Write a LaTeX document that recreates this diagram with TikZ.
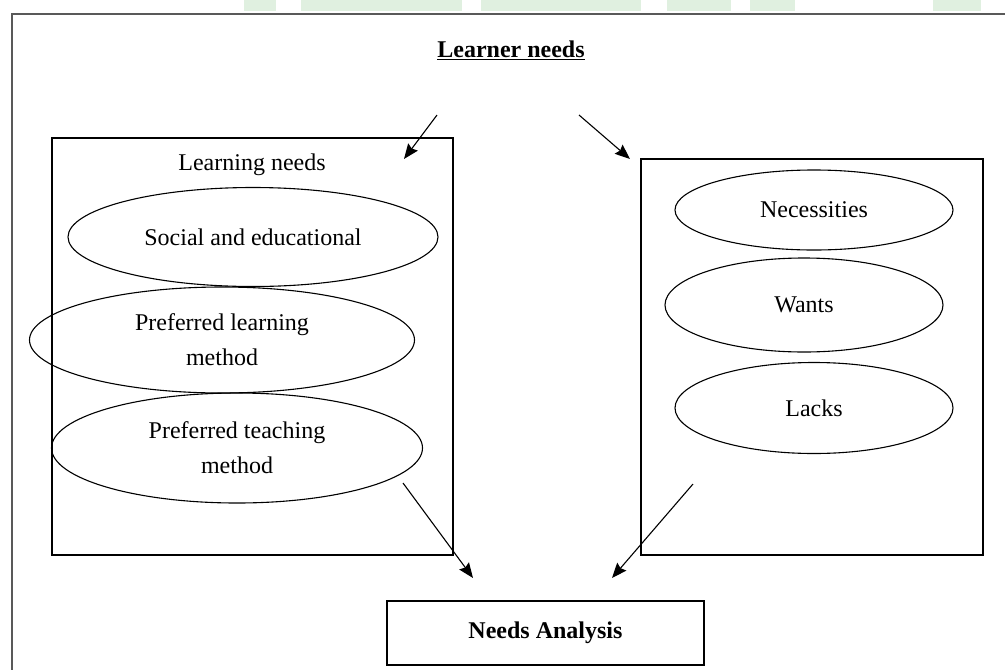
\documentclass[tikz,border=0pt]{standalone}
\usepackage{fontspec}
\setmainfont{Liberation Serif}
\usetikzlibrary{arrows.meta, shapes.geometric}

\begin{document}
\begin{tikzpicture}[x=1pt, y=-1pt, >={Stealth[length=15pt,width=12pt,inset=2pt]},
    line width=1.1pt, font=\fontsize{24}{35}\selectfont,
    oval/.style={draw, ellipse, inner sep=0pt, align=center},
    frame/.style={draw, rectangle, inner sep=0pt}]
    \useasboundingbox (0,0) rectangle (1005,670);
    % faded banner along the top edge
    \foreach \a/\b in {244/276, 301/462, 481/641, 667/731, 750/795, 933/981}
        \fill[green!50!black!12] (\a,0) rectangle (\b,11);
    \draw[line width=2pt, black!65] (12,670) -- (12,14) -- (1005,14);
    \node (ln) at (511,50) {\underline{\textbf{Learner needs}}};
    % left box
    \node[frame, minimum width=401pt, minimum height=417pt] (lbox) at (252.5,346.5) {};
    \node (lnd) at (252,165) {Learning needs};
    \node[oval, minimum width=370pt, minimum height=99pt] (soc) at (253,237) {Social and educational};
    \node[oval, minimum width=385pt, minimum height=106pt] (plm) at (222,340) {Preferred learning\\method};
    \node[oval, minimum width=371pt, minimum height=110pt] (ptm) at (237,448) {Preferred teaching\\method};
    % right box
    \node[frame, minimum width=342pt, minimum height=396pt] (rbox) at (812,357) {};
    \node[oval, minimum width=278pt, minimum height=80pt] (nec) at (814,210) {Necessities};
    \node[oval, minimum width=278pt, minimum height=94pt] (wan) at (804,305) {Wants};
    \node[oval, minimum width=278pt, minimum height=91pt] (lac) at (814,408) {Lacks};
    \node[frame, minimum width=317pt, minimum height=64pt] (na) at (545.5,633) {\textbf{Needs Analysis}};
    % arrows
    \coordinate (t1) at (437,115);
    \coordinate (t1e) at (404,159);
    \coordinate (t2) at (579,115);
    \coordinate (t2e) at (630,159);
    \coordinate (b1) at (403,483);
    \coordinate (b1e) at (473,578);
    \coordinate (b2) at (693,484);
    \coordinate (b2e) at (612,578);
    \draw[->] (t1) -- (t1e);
    \draw[->] (t2) -- (t2e);
    \draw[->] (b1) -- (b1e);
    \draw[->] (b2) -- (b2e);
\end{tikzpicture}
\end{document}
